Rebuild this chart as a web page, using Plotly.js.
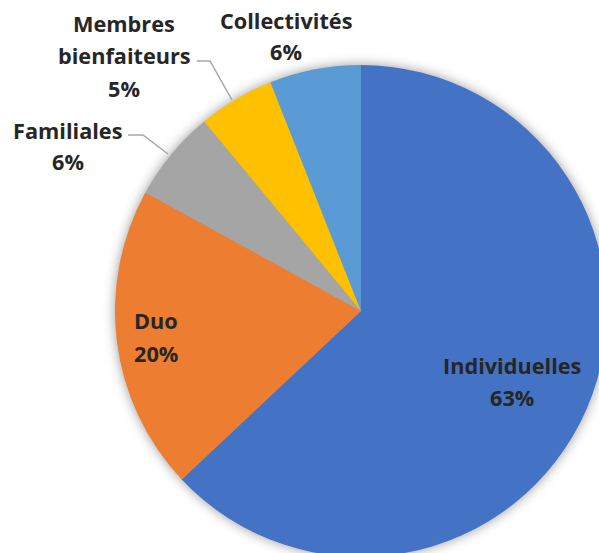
<!DOCTYPE html>
<html>
<head>
<meta charset="utf-8">
<script src="https://cdn.plot.ly/plotly-3.0.1.min.js"></script>
<style>
html,body{margin:0;padding:0;overflow:hidden;background:#fff;width:599px;height:553px;}
#chart{width:720px;height:620px;}
</style>
</head>
<body>
<div id="chart"></div>
<script>
// ---- data ----
const categories = ['Individuelles', 'Duo', 'Familiales', 'Membres bienfaiteurs', 'Collectivités'];
const values = [63, 20, 6, 5, 6];
const colors = ['#4472C4', '#ED7D31', '#A5A5A5', '#FFC000', '#5B9BD5'];

// ---- layout helpers (pixel -> paper) ----
const W = 720, H = 620;
const px = x => x / W;
const py = y => 1 - y / H;

// label anchor (pixel x of line anchor, pixel y of first line, line step, alignment)
const labelPos = [
  {x: 512, y: 365.5, step: 31.5, anchor: 'center'},
  {x: 132, y: 320, step: 33.5, anchor: 'left'},
  {x: 67.5, y: 130, step: 32, anchor: 'center'},
  {x: 124, y: 23, step: 32.5, anchor: 'center'},
  {x: 285.5, y: 20.5, step: 31, anchor: 'center'}
];

const font = {family: 'Open Sans, sans-serif', size: 21.7, color: '#262626', weight: 700};

const annotations = [];
categories.forEach((c, i) => {
  const lines = c.split(' ').concat([values[i] + '%']);
  const p = labelPos[i];
  lines.forEach((ln, k) => {
    annotations.push({
      xref: 'paper', yref: 'paper',
      x: px(p.x), y: py(p.y + k * p.step),
      xanchor: p.anchor, yanchor: 'middle',
      text: '<b>' + ln + '</b>', showarrow: false, font: font
    });
  });
});

const leaderPaths = [
  [[128, 135], [143, 135], [168, 154]],
  [[197, 61], [210, 61], [232, 100]]
];
const shapes = leaderPaths.map(pts => ({
  type: 'path', xref: 'paper', yref: 'paper',
  path: pts.map((q, j) => (j ? 'L' : 'M') + px(q[0]) + ',' + py(q[1])).join(' '),
  line: {color: '#A6A6A6', width: 1.5}
}));

const trace = {
  type: 'pie',
  labels: categories,
  values: values,
  sort: false,
  direction: 'clockwise',
  rotation: 0,
  textinfo: 'none',
  hoverinfo: 'label+percent',
  marker: {colors: colors, line: {width: 0}},
  domain: {x: [px(115), px(607)], y: [py(557), py(65)]}
};

const layout = {
  width: W, height: H,
  margin: {l: 0, r: 0, t: 0, b: 0},
  showlegend: false,
  paper_bgcolor: '#ffffff',
  annotations: annotations,
  shapes: shapes
};

Plotly.newPlot('chart', [trace], layout, {displayModeBar: false, staticPlot: true}).then(() => {
  const pl = document.querySelector('.pielayer');
  if (pl) pl.style.filter = 'drop-shadow(0px 0px 6px rgba(0,0,0,0.4))';
});
</script>
</body>
</html>
